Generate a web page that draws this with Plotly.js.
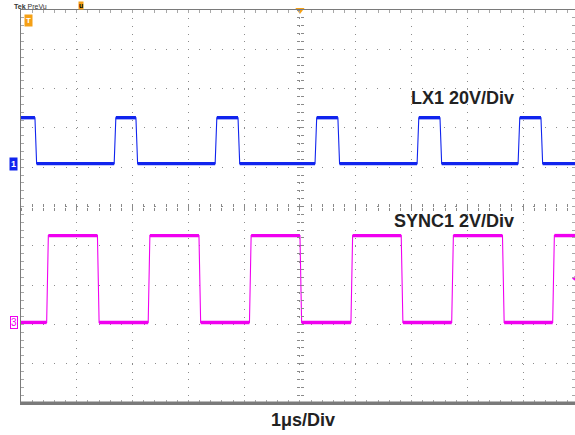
<!DOCTYPE html>
<html><head><meta charset="utf-8">
<script src="https://cdn.plot.ly/plotly-3.0.1.min.js"></script>
<style>html,body{margin:0;padding:0;background:#fff;overflow:hidden}</style>
</head><body><div id="chart" style="width:575px;height:435px"></div>
<script>
// Horizontal: time in µs (1 µs/div); vertical: screen divisions
const timeRange = [-5, 4.93];
const divRange = [-5, 5];

// LX1 (20 V/div) – transition times in µs, trace starts high
const lxEdgeTimes = [-4.75, -3.33, -2.94, -1.52, -1.11, 0.27, 0.68, 2.10, 2.51, 3.91, 4.32];
const lxHigh = 2.26;
const lxLow = 1.09;
const lxStartsHigh = true;

// SYNC1 (2 V/div) – transition times in µs, trace starts low
const syncEdgeTimes = [-4.54, -3.63, -2.72, -1.81, -0.905, 0.0, 0.914, 1.815, 2.72, 3.63, 4.53];
const syncHigh = -0.74;
const syncLow = -2.95;
const syncStartsHigh = false;

const edgeDuration = 0.03;          // µs
const triggerTime = [0];            // trigger position marker
const syncTriggerLevel = [-1.83];   // trigger level marker (divisions)

const channelLabels = ['LX1 20V/Div', 'SYNC1 2V/Div'];
const channelLabelPos = [[3.88, 2.75], [3.88, -0.38]];
const timebaseLabel = '1μs/Div';

const BLUE = '#1024ee';
const MAGENTA = '#f000f0';
const ORANGE = '#f5a015';
const FONT = 'Liberation Sans, Arial, sans-serif';

function buildWave(edges, hi, lo, startHigh) {
  let high = startHigh;
  const lvl = h => (h ? hi : lo);
  const full = {x: [timeRange[0]], y: [lvl(high)]};
  const flat = {x: [timeRange[0]], y: [lvl(high)]};
  edges.forEach(t => {
    full.x.push(t); full.y.push(lvl(high));
    flat.x.push(t, null); flat.y.push(lvl(high), null);
    high = !high;
    full.x.push(t + edgeDuration); full.y.push(lvl(high));
    flat.x.push(t + edgeDuration); flat.y.push(lvl(high));
  });
  full.x.push(timeRange[1]); full.y.push(lvl(high));
  flat.x.push(timeRange[1]); flat.y.push(lvl(high));
  return {full, flat};
}

const lx = buildWave(lxEdgeTimes, lxHigh, lxLow, lxStartsHigh);
const sy = buildWave(syncEdgeTimes, syncHigh, syncLow, syncStartsHigh);

const line = (d, color, w) => ({
  type: 'scatter', mode: 'lines', x: d.x, y: d.y,
  line: {color: color, width: w, shape: 'linear'},
  hoverinfo: 'skip', showlegend: false, connectgaps: false
});

const traces = [
  line(lx.full, BLUE, 1.1), line(lx.flat, BLUE, 3.4),
  line(sy.full, MAGENTA, 1.1), line(sy.flat, MAGENTA, 3.4),
  {type: 'scatter', mode: 'markers', x: triggerTime, y: [divRange[1]],
   marker: {symbol: 'triangle-down', size: 8, color: ORANGE},
   cliponaxis: false, hoverinfo: 'skip', showlegend: false},
  {type: 'scatter', mode: 'markers', x: [timeRange[1]], y: syncTriggerLevel,
   marker: {symbol: 'triangle-left', size: 6, color: MAGENTA},
   cliponaxis: false, hoverinfo: 'skip', showlegend: false},
  {type: 'scatter', x: [null], y: [null], xaxis: 'x2', yaxis: 'y', showlegend: false, hoverinfo: 'skip'},
  {type: 'scatter', x: [null], y: [null], xaxis: 'x3', yaxis: 'y', showlegend: false, hoverinfo: 'skip'},
  {type: 'scatter', x: [null], y: [null], xaxis: 'x', yaxis: 'y2', showlegend: false, hoverinfo: 'skip'},
  {type: 'scatter', x: [null], y: [null], xaxis: 'x', yaxis: 'y3', showlegend: false, hoverinfo: 'skip'}
];

const tickCol = '#a8a8a8';
const baseX = {
  range: timeRange, showticklabels: false, zeroline: false, fixedrange: true
};
const baseY = {
  range: divRange, showticklabels: false, zeroline: false, fixedrange: true
};
const centerFrac = (0 - timeRange[0]) / (timeRange[1] - timeRange[0]);

const layout = {
  width: 575, height: 435,
  margin: {l: 21, r: 0, t: 10, b: 32, pad: 0},
  paper_bgcolor: '#fff', plot_bgcolor: '#fff',
  showlegend: false,
  xaxis: Object.assign({}, baseX, {
    domain: [0, 1],
    tick0: 0, dtick: 1, ticks: 'inside', ticklen: 3, tickcolor: tickCol, tickwidth: 1,
    minor: {dtick: 0.2, tick0: 0, ticks: 'inside', ticklen: 3, tickcolor: tickCol, showgrid: false},
    showgrid: true, gridcolor: '#8c8c8c', gridwidth: 1, griddash: '1px,6.86px',
    showline: true, linecolor: '#7a7a7a', linewidth: 1.5, mirror: 'ticks'
  }),
  yaxis: Object.assign({}, baseY, {
    domain: [0, 1],
    tick0: 0, dtick: 1, ticks: 'inside', ticklen: 3, tickcolor: tickCol, tickwidth: 1,
    minor: {dtick: 0.2, tick0: 0, ticks: 'inside', ticklen: 3, tickcolor: tickCol, showgrid: false},
    showgrid: true, gridcolor: '#8c8c8c', gridwidth: 1, griddash: '1px,10.14px',
    showline: true, linecolor: '#7a7a7a', linewidth: 1.5, mirror: 'ticks'
  }),
  xaxis2: Object.assign({}, baseX, {
    overlaying: 'x', anchor: 'free', position: 0.5, side: 'bottom',
    tick0: 0, dtick: 0.2, ticks: 'outside', ticklen: 3, tickcolor: '#8a8a8a',
    showgrid: false, showline: false
  }),
  xaxis3: Object.assign({}, baseX, {
    overlaying: 'x', anchor: 'free', position: 0.5, side: 'bottom',
    tick0: 0, dtick: 0.2, ticks: 'inside', ticklen: 3, tickcolor: '#8a8a8a',
    showgrid: false, showline: false
  }),
  yaxis2: Object.assign({}, baseY, {
    overlaying: 'y', anchor: 'free', position: centerFrac, side: 'left',
    tick0: 0, dtick: 0.2, ticks: 'outside', ticklen: 3, tickcolor: '#8a8a8a',
    showgrid: false, showline: false
  }),
  yaxis3: Object.assign({}, baseY, {
    overlaying: 'y', anchor: 'free', position: centerFrac, side: 'left',
    tick0: 0, dtick: 0.2, ticks: 'inside', ticklen: 3, tickcolor: '#8a8a8a',
    showgrid: false, showline: false
  }),
  shapes: [
    {type: 'line', xref: 'paper', yref: 'paper', x0: 0, x1: 1, y0: 0, y1: 0,
     line: {color: '#7a7a7a', width: 3}}
  ],
  annotations: [
    {xref: 'x', yref: 'y', x: channelLabelPos[0][0], y: channelLabelPos[0][1],
     xanchor: 'right', yanchor: 'middle', showarrow: false,
     text: '<b>' + channelLabels[0] + '</b>', font: {family: FONT, size: 18, color: '#222'}},
    {xref: 'x', yref: 'y', x: channelLabelPos[1][0], y: channelLabelPos[1][1],
     xanchor: 'right', yanchor: 'middle', showarrow: false,
     text: '<b>' + channelLabels[1] + '</b>', font: {family: FONT, size: 18, color: '#222'}},
    {xref: 'paper', yref: 'paper', x: 0.509, y: 0, xanchor: 'center', yanchor: 'top', yshift: -5,
     showarrow: false, text: '<b>' + timebaseLabel + '</b>', font: {family: FONT, size: 18, color: '#222'}},
    {xref: 'paper', yref: 'y', x: 0, y: lxLow, xanchor: 'right', yanchor: 'middle', xshift: -3,
     showarrow: false, text: '<b>1</b>', bgcolor: BLUE, borderpad: 1,
     font: {family: FONT, size: 9, color: '#fff'}},
    {xref: 'paper', yref: 'y', x: 0, y: syncLow, xanchor: 'right', yanchor: 'middle', xshift: -3,
     showarrow: false, text: '3', bgcolor: '#fff', bordercolor: MAGENTA, borderwidth: 1, borderpad: 0,
     font: {family: FONT, size: 10, color: MAGENTA}},
    {xref: 'paper', yref: 'paper', x: 0, y: 1, xanchor: 'left', yanchor: 'top', xshift: 3, yshift: -4,
     showarrow: false, text: '<b>T</b>', bgcolor: ORANGE, borderpad: 1,
     font: {family: FONT, size: 8, color: '#fff'}},
    {xref: 'paper', yref: 'paper', x: 0.108, y: 1, xanchor: 'center', yanchor: 'bottom', yshift: 0,
     showarrow: false, text: '<b>u</b>', bgcolor: ORANGE, borderpad: 0,
     font: {family: FONT, size: 7, color: '#000'}},
    {xref: 'paper', yref: 'paper', x: -0.017, y: 1, xanchor: 'left', yanchor: 'middle', yshift: 4,
     showarrow: false, text: '<b>Tek</b> PreVu', font: {family: FONT, size: 7, color: '#333'}}
  ]
};

Plotly.newPlot('chart', traces, layout, {staticPlot: true, displayModeBar: false});
</script></body></html>
